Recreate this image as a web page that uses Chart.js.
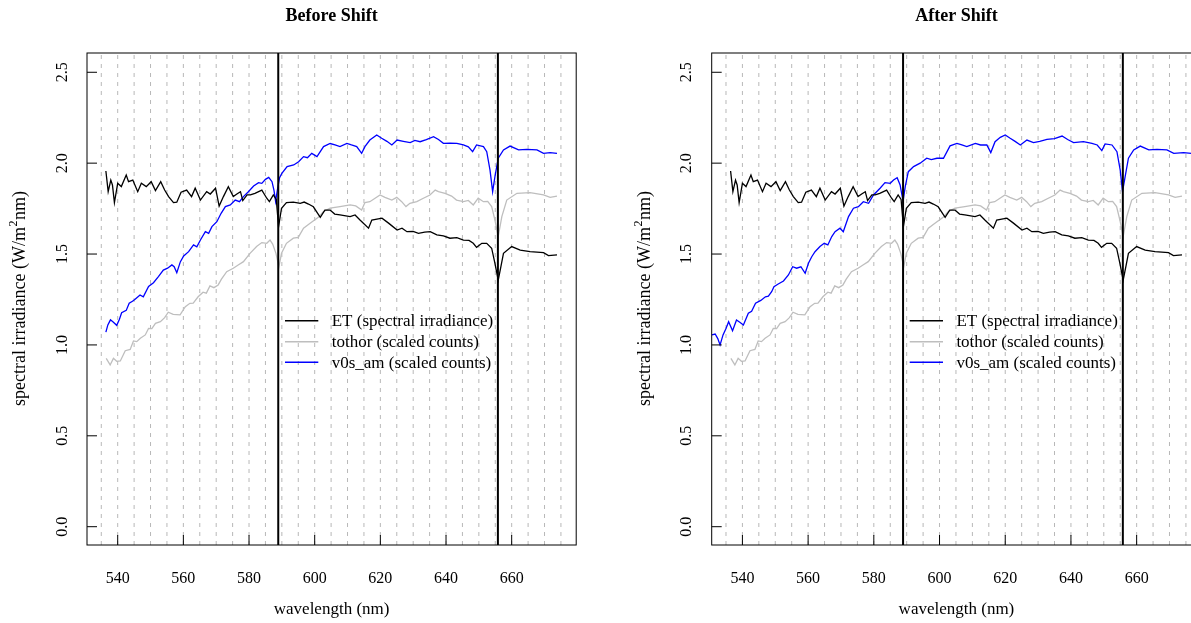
<!DOCTYPE html>
<html>
<head>
<meta charset="utf-8">
<script src="https://cdn.jsdelivr.net/npm/chart.js@4.4.1/dist/chart.umd.min.js"></script>
<style>
  html, body { margin: 0; padding: 0; background: #fff; overflow: hidden; }
  #wrap { position: absolute; left: 0; top: 0; width: 1191px; height: 623px; overflow: hidden; }
  canvas { position: absolute; top: 0; }
  #before { left: 0; }
  #after { left: 625px; }
</style>
</head>
<body>
<div id="wrap">
<canvas id="before" width="600" height="623"></canvas>
<canvas id="after" width="600" height="623"></canvas>
</div>
<script>
// ET (spectral irradiance), same in both panels
const etWl = [536.4, 537.1, 537.9, 538.4, 539.0, 540.0, 541.1, 542.6, 543.3, 544.6, 546.1, 547.2, 548.7, 550.2, 551.5, 553.1, 554.3, 555.5, 557.0, 558.0, 559.3, 561.0, 562.5, 563.6, 565.2, 567.1, 568.2, 569.8, 570.9, 572.2, 573.7, 575.2, 576.3, 577.4, 578.1, 579.4, 580.4, 581.8, 583.9, 585.4, 586.2, 587.4, 588.3, 589.0, 589.9, 591.4, 593.5, 595.6, 596.8, 598.1, 599.6, 601.7, 603.1, 604.7, 606.1, 607.7, 610.8, 612.3, 613.8, 616.4, 617.4, 620.5, 622.5, 625.1, 626.6, 628.1, 630.0, 631.6, 633.5, 635.2, 637.2, 639.2, 641.2, 643.3, 645.3, 647.0, 648.3, 649.3, 650.9, 652.4, 653.9, 654.9, 655.9, 656.7, 657.5, 660.0, 662.6, 665.6, 669.7, 671.2, 673.8];
const etVal = [1.957, 1.843, 1.907, 1.88, 1.783, 1.889, 1.871, 1.935, 1.898, 1.907, 1.843, 1.889, 1.871, 1.898, 1.849, 1.898, 1.852, 1.816, 1.783, 1.785, 1.84, 1.852, 1.816, 1.862, 1.797, 1.843, 1.83, 1.862, 1.764, 1.816, 1.871, 1.816, 1.83, 1.843, 1.794, 1.825, 1.825, 1.834, 1.852, 1.807, 1.788, 1.825, 1.80, 1.651, 1.752, 1.783, 1.786, 1.779, 1.786, 1.775, 1.76, 1.702, 1.742, 1.742, 1.72, 1.715, 1.706, 1.715, 1.687, 1.642, 1.687, 1.697, 1.67, 1.632, 1.642, 1.623, 1.625, 1.614, 1.62, 1.623, 1.605, 1.60, 1.587, 1.59, 1.577, 1.575, 1.559, 1.537, 1.559, 1.559, 1.532, 1.449, 1.357, 1.430, 1.504, 1.541, 1.522, 1.513, 1.508, 1.491, 1.495];

// tothor (scaled counts), same in both panels
const tothorWl = [536.5, 537.7, 538.7, 539.7, 540.8, 542.3, 543.8, 544.8, 545.8, 546.9, 548.4, 549.4, 550.4, 551.5, 553.0, 554.3, 555.4, 556.9, 559.0, 560.6, 562.0, 563.0, 564.5, 566.0, 567.0, 568.1, 569.3, 570.6, 571.6, 573.2, 575.2, 576.7, 578.3, 580.3, 582.3, 583.9, 585.4, 586.4, 587.2, 588.2, 589.1, 589.9, 591.4, 593.5, 595.0, 596.6, 598.6, 601.1, 602.6, 604.7, 607.7, 610.8, 612.5, 614.3, 615.3, 616.8, 619.9, 621.4, 623.5, 625.0, 626.5, 627.8, 629.0, 631.1, 633.1, 635.1, 636.7, 637.7, 639.7, 641.7, 643.2, 645.3, 646.8, 648.3, 649.8, 651.4, 652.7, 653.9, 654.9, 655.9, 657.0, 658.5, 661.6, 665.6, 669.7, 671.7, 673.8];
const tothorVal = [0.926, 0.89, 0.926, 0.91, 0.912, 0.968, 0.975, 1.022, 1.018, 1.037, 1.055, 1.091, 1.09, 1.119, 1.128, 1.15, 1.18, 1.168, 1.165, 1.21, 1.229, 1.23, 1.265, 1.29, 1.285, 1.325, 1.315, 1.33, 1.362, 1.403, 1.422, 1.44, 1.458, 1.504, 1.541, 1.563, 1.559, 1.577, 1.555, 1.504, 1.43, 1.504, 1.559, 1.587, 1.592, 1.642, 1.669, 1.702, 1.733, 1.752, 1.761, 1.77, 1.765, 1.742, 1.783, 1.788, 1.825, 1.812, 1.797, 1.812, 1.788, 1.761, 1.779, 1.788, 1.807, 1.825, 1.852, 1.843, 1.834, 1.819, 1.797, 1.788, 1.795, 1.77, 1.807, 1.788, 1.79, 1.761, 1.687, 1.596, 1.706, 1.797, 1.834, 1.838, 1.825, 1.812, 1.819];

// v0s_am (scaled counts) before the wavelength shift
const v0sBeforeWl = [536.4, 537.0, 537.8, 538.7, 539.7, 540.5, 541.2, 542.6, 543.5, 544.5, 545.3, 546.8, 547.8, 549.4, 550.9, 552.4, 553.9, 555.2, 556.5, 557.2, 558.0, 559.1, 560.1, 561.6, 563.1, 564.1, 565.2, 566.7, 567.7, 568.7, 570.2, 571.5, 572.8, 574.3, 575.8, 577.1, 578.3, 579.8, 581.4, 582.9, 583.9, 585.0, 586.0, 587.0, 587.6, 588.1, 588.7, 589.3, 590.0, 591.6, 593.6, 595.1, 596.6, 597.8, 599.1, 600.7, 602.7, 604.7, 606.2, 607.7, 609.8, 611.2, 612.8, 614.3, 615.3, 616.8, 618.9, 620.4, 622.0, 623.5, 625.1, 627.0, 629.1, 630.5, 632.1, 634.0, 636.2, 637.7, 639.2, 641.2, 643.3, 645.3, 646.8, 648.1, 649.3, 651.4, 652.4, 653.4, 654.2, 654.9, 655.9, 657.5, 659.5, 662.1, 664.6, 667.7, 669.7, 671.7, 673.8];
const v0sBeforeVal = [1.07, 1.11, 1.138, 1.125, 1.108, 1.14, 1.177, 1.19, 1.229, 1.24, 1.251, 1.275, 1.265, 1.322, 1.342, 1.376, 1.412, 1.422, 1.44, 1.43, 1.397, 1.458, 1.489, 1.513, 1.55, 1.54, 1.577, 1.623, 1.614, 1.651, 1.678, 1.724, 1.761, 1.77, 1.797, 1.788, 1.816, 1.843, 1.874, 1.893, 1.889, 1.911, 1.922, 1.898, 1.85, 1.79, 1.86, 1.92, 1.944, 1.981, 1.99, 2.008, 2.036, 2.03, 2.054, 2.036, 2.091, 2.108, 2.1, 2.091, 2.109, 2.1, 2.091, 2.054, 2.091, 2.127, 2.155, 2.137, 2.12, 2.1, 2.127, 2.12, 2.113, 2.125, 2.118, 2.13, 2.146, 2.13, 2.109, 2.11, 2.109, 2.1, 2.09, 2.063, 2.1, 2.091, 2.063, 1.962, 1.843, 1.926, 2.027, 2.073, 2.094, 2.073, 2.076, 2.073, 2.054, 2.058, 2.054];

// v0s_am (scaled counts) after the wavelength shift
const v0sAfterWl = [530.7, 531.7, 532.5, 533.2, 534.1, 535.0, 535.8, 537.0, 538.2, 539.2, 540.3, 541.8, 542.8, 544.0, 545.6, 547.0, 547.9, 548.9, 549.6, 550.9, 552.5, 554.0, 555.3, 556.5, 557.8, 559.1, 560.1, 561.1, 562.1, 563.6, 564.9, 566.0, 567.2, 568.2, 569.7, 570.7, 572.3, 573.8, 575.3, 576.8, 578.4, 579.9, 581.9, 583.4, 585.0, 586.0, 587.1, 588.0, 588.9, 589.6, 590.5, 592.1, 594.1, 596.1, 597.5, 599.2, 601.2, 603.2, 605.3, 606.8, 608.3, 610.9, 612.5, 614.4, 615.6, 616.9, 618.5, 620.0, 621.5, 623.0, 624.6, 626.6, 628.6, 630.5, 632.7, 635.0, 637.3, 639.0, 640.8, 643.8, 646.4, 648.0, 649.4, 650.4, 652.5, 654.0, 655.0, 655.7, 656.5, 657.5, 659.1, 661.1, 663.7, 666.2, 669.2, 671.3, 674.3, 676.6, 679.0];
const v0sAfterVal = [1.055, 1.06, 1.035, 1.0, 1.055, 1.09, 1.128, 1.078, 1.137, 1.125, 1.11, 1.174, 1.185, 1.229, 1.245, 1.265, 1.268, 1.293, 1.32, 1.335, 1.352, 1.385, 1.43, 1.422, 1.43, 1.394, 1.449, 1.485, 1.513, 1.541, 1.559, 1.55, 1.596, 1.623, 1.642, 1.623, 1.706, 1.752, 1.761, 1.788, 1.779, 1.825, 1.862, 1.893, 1.889, 1.907, 1.92, 1.88, 1.79, 1.875, 1.953, 1.981, 2.0, 2.027, 2.02, 2.027, 2.027, 2.095, 2.109, 2.1, 2.091, 2.109, 2.1, 2.1, 2.058, 2.118, 2.142, 2.155, 2.137, 2.12, 2.1, 2.127, 2.113, 2.12, 2.131, 2.135, 2.149, 2.13, 2.113, 2.118, 2.109, 2.1, 2.069, 2.106, 2.1, 2.063, 1.962, 1.843, 1.926, 2.027, 2.073, 2.094, 2.073, 2.076, 2.073, 2.054, 2.058, 2.054, 2.054];

// reference lines (Na D, H-alpha) and axes
const lineWl = [588.9, 655.8];
const gridWl = [535, 540, 545, 550, 555, 560, 565, 570, 575, 580, 585, 590, 595, 600, 605, 610, 615, 620, 625, 630, 635, 640, 645, 650, 655, 660, 665, 670, 675];
const xTicks = [540, 560, 580, 600, 620, 640, 660];
const yTicks = [0.0, 0.5, 1.0, 1.5, 2.0, 2.5];
const yTickLabels = ["0.0", "0.5", "1.0", "1.5", "2.0", "2.5"];
const legendLabels = ["ET (spectral irradiance)", "tothor (scaled counts)", "v0s_am (scaled counts)"];
const legendColors = ["#000000", "#bebebe", "#0000ff"];

const xMin = 530.65, xMax = 679.65;
const yMin = -0.1007, yMax = 2.606;
const FONT = '"Liberation Serif", "Times New Roman", serif';

function zip(xs, ys) {
  return xs.map((x, i) => ({ x: x, y: ys[i] }));
}

function vline(wl) {
  return {
    data: [{ x: wl, y: yMin }, { x: wl, y: yMax }],
    borderColor: "#000", borderWidth: 2
  };
}

const rFrame = {
  id: "rFrame",
  beforeDatasetsDraw(chart) {
    const ctx = chart.ctx, a = chart.chartArea, xs = chart.scales.x;
    ctx.save();
    ctx.strokeStyle = "#b8b8b8";
    ctx.lineWidth = 1;
    ctx.setLineDash([4, 5]);
    gridWl.forEach(w => {
      const px = xs.getPixelForValue(w);
      ctx.beginPath();
      ctx.moveTo(px, a.bottom);
      ctx.lineTo(px, a.top);
      ctx.stroke();
    });
    ctx.restore();
  },
  afterDraw(chart, args, opts) {
    const ctx = chart.ctx, a = chart.chartArea;
    const xs = chart.scales.x, ys = chart.scales.y;
    ctx.save();
    ctx.strokeStyle = "#000";
    ctx.fillStyle = "#000";
    ctx.lineWidth = 1;
    ctx.setLineDash([]);
    // box
    ctx.strokeRect(a.left, a.top, a.right - a.left, a.bottom - a.top);
    // inward ticks
    ctx.beginPath();
    xTicks.forEach(t => {
      const px = xs.getPixelForValue(t);
      ctx.moveTo(px, a.bottom);
      ctx.lineTo(px, a.bottom - 10);
    });
    yTicks.forEach(t => {
      const py = ys.getPixelForValue(t);
      ctx.moveTo(a.left, py);
      ctx.lineTo(a.left + 10, py);
    });
    ctx.stroke();

    // tick labels
    ctx.font = "16px " + FONT;
    ctx.textAlign = "center";
    ctx.textBaseline = "alphabetic";
    xTicks.forEach(t => {
      ctx.fillText(String(t), xs.getPixelForValue(t), 583);
    });
    yTicks.forEach((t, i) => {
      ctx.save();
      ctx.translate(a.left - 20.3, ys.getPixelForValue(t));
      ctx.rotate(-Math.PI / 2);
      ctx.fillText(yTickLabels[i], 0, 0);
      ctx.restore();
    });

    // axis titles
    const cx = (a.left + a.right) / 2, cy = (a.top + a.bottom) / 2;
    ctx.font = "17px " + FONT;
    ctx.fillText("wavelength (nm)", cx, 614);
    ctx.save();
    ctx.translate(a.left - 62, cy);
    ctx.rotate(-Math.PI / 2);
    const p1 = "spectral irradiance (W/m", p2 = "2", p3 = "nm)";
    ctx.font = "18px " + FONT;
    const w1 = ctx.measureText(p1).width, w3 = ctx.measureText(p3).width;
    ctx.font = "12px " + FONT;
    const w2 = ctx.measureText(p2).width;
    let x0 = -(w1 + w2 + w3) / 2;
    ctx.textAlign = "left";
    ctx.font = "18px " + FONT;
    ctx.fillText(p1, x0, 0);
    ctx.font = "12px " + FONT;
    ctx.fillText(p2, x0 + w1 + 0.5, -8);
    ctx.font = "18px " + FONT;
    ctx.fillText(p3, x0 + w1 + w2 + 1, 0);
    ctx.restore();

    // title
    ctx.font = "bold 18px " + FONT;
    ctx.textAlign = "center";
    ctx.fillText(opts.title, cx, 20.7);

    // legend
    const legY = [320.7, 341.7, 362.3];
    ctx.font = "17px " + FONT;
    ctx.textAlign = "left";
    ctx.textBaseline = "middle";
    legendLabels.forEach((lab, i) => {
      ctx.strokeStyle = legendColors[i];
      ctx.lineWidth = 1.5;
      ctx.beginPath();
      ctx.moveTo(a.left + 198, legY[i]);
      ctx.lineTo(a.left + 231.3, legY[i]);
      ctx.stroke();
      ctx.fillStyle = "#000";
      ctx.fillText(lab, a.left + 244.7, legY[i] + 1);
    });
    ctx.restore();
  }
};

// the right panel's canvas runs past the window edge, so its box is cut off like the original
function makeChart(id, title, blueWl, blueVal, padLeft) {
  return new Chart(document.getElementById(id), {
    type: "line",
    data: {
      datasets: [
        vline(lineWl[0]),
        vline(lineWl[1]),
        { label: legendLabels[0], data: zip(etWl, etVal), borderColor: legendColors[0] },
        { label: legendLabels[1], data: zip(tothorWl, tothorVal), borderColor: legendColors[1] },
        { label: legendLabels[2], data: zip(blueWl, blueVal), borderColor: legendColors[2] }
      ]
    },
    options: {
      responsive: false,
      animation: false,
      layout: { padding: { left: padLeft, right: 23.8, top: 53, bottom: 78 } },
      scales: {
        x: { type: "linear", min: xMin, max: xMax, display: false },
        y: { type: "linear", min: yMin, max: yMax, display: false }
      },
      elements: {
        point: { radius: 0 },
        line: { tension: 0, borderWidth: 1.3, fill: false }
      },
      plugins: {
        legend: { display: false },
        tooltip: { enabled: false },
        rFrame: { title: title }
      }
    },
    plugins: [rFrame]
  });
}

makeChart("before", "Before Shift", v0sBeforeWl, v0sBeforeVal, 87);
makeChart("after", "After Shift", v0sAfterWl, v0sAfterVal, 86.7);
</script>
</body>
</html>
